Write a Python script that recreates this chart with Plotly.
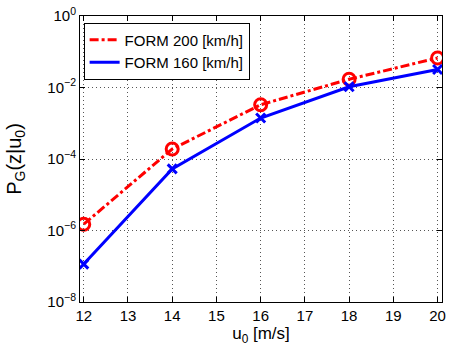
import plotly.graph_objects as go

u0 = [12, 14, 16, 18, 20]
form200 = [1.5e-6, 1.9e-4, 3.3e-3, 1.7e-2, 6.7e-2]
form160 = [1.15e-7, 5.3e-5, 1.4e-3, 1.05e-2, 3.2e-2]
xticks = [12, 13, 14, 15, 16, 17, 18, 19, 20]
yticks = [1e-8, 1e-6, 1e-4, 1e-2, 1e0]
yticklabels = ["10<sup>−8</sup>", "10<sup>−6</sup>", "10<sup>−4</sup>", "10<sup>−2</sup>", "10<sup>0</sup>"]
names = ["FORM 200 [km/h]", "FORM 160 [km/h]"]

font = "Liberation Sans, Arial, Helvetica, sans-serif"

fig = go.Figure()
fig.add_trace(go.Scatter(
    x=u0, y=form200, mode="lines+markers", name=names[0], showlegend=False,
    line=dict(color="red", width=3, dash="dashdot"),
    marker=dict(symbol="circle-open", size=12, color="red", line=dict(width=3, color="red")),
))
fig.add_trace(go.Scatter(
    x=u0, y=form160, mode="lines+markers", name=names[1], showlegend=False,
    line=dict(color="blue", width=3),
    marker=dict(symbol="x-thin-open", size=9, color="blue", line=dict(width=3, color="blue")),
))
# legend entries (lines only, as in the reference)
fig.add_trace(go.Scatter(x=[None], y=[None], mode="lines", name=names[0],
                         line=dict(color="red", width=3, dash="dashdot")))
fig.add_trace(go.Scatter(x=[None], y=[None], mode="lines", name=names[1],
                         line=dict(color="blue", width=3)))

fig.update_layout(
    width=451, height=351,
    margin=dict(l=80, r=5, t=16, b=49),
    paper_bgcolor="white", plot_bgcolor="white",
    font=dict(family=font, size=15, color="black"),
    showlegend=True,
    legend=dict(x=0.01, y=0.977, xanchor="left", yanchor="top",
                bordercolor="black", borderwidth=1, bgcolor="white",
                font=dict(size=15), itemwidth=30, tracegroupgap=0),
)
grid = dict(showgrid=True, gridcolor="#555555", griddash="1px,3px", gridwidth=1)
fig.update_xaxes(
    range=[11.915, 20.1], tickvals=xticks, ticktext=[str(v) for v in xticks],
    showline=True, linecolor="black", linewidth=1, mirror="ticks",
    ticks="inside", ticklen=5, tickcolor="black", ticklabeloverflow="allow",
    zeroline=False, tickfont=dict(size=15), **grid,
    title=dict(text="u<sub>0</sub> [m/s]", font=dict(size=17), standoff=2),
)
fig.update_yaxes(
    type="log", range=[-8, 0], tickvals=yticks, ticktext=yticklabels,
    showline=True, linecolor="black", linewidth=1, mirror="ticks",
    ticks="inside", ticklen=5, tickcolor="black", ticklabeloverflow="allow",
    zeroline=False, tickfont=dict(size=15), **grid,
    title=dict(text="P<sub>G</sub>(z|u<sub>0</sub>)", font=dict(size=20), standoff=20),
)

fig.write_html("out.html", config={"displayModeBar": False},
               post_script="document.body.style.margin='0';")
